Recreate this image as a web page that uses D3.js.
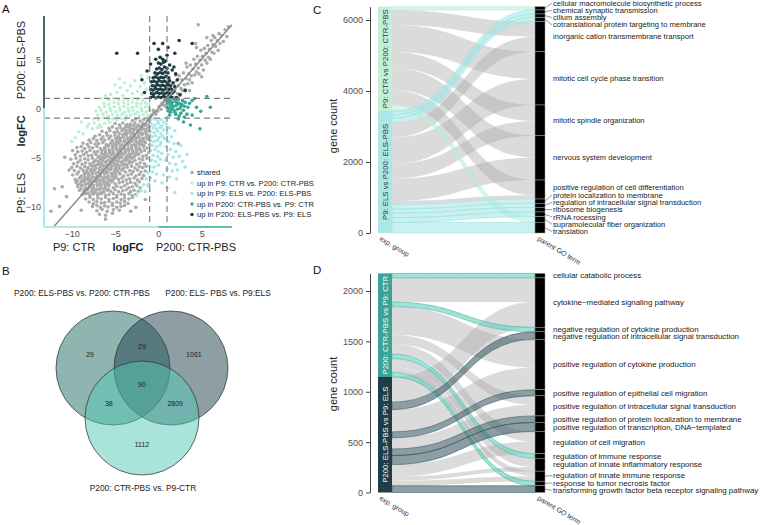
<!DOCTYPE html>
<html><head><meta charset="utf-8">
<script src="https://cdn.jsdelivr.net/npm/d3@7"></script>
<style>body{margin:0;background:#fff}svg{display:block}text{font-family:"Liberation Sans",Arial,sans-serif}</style>
</head><body><svg id="c" width="765" height="525"></svg>
<script>
// ---------------- DATA ----------------
// Panel A: logFC (x: CTR-PBS vs P9 CTR, y: ELS-PBS vs P9 ELS)
const sharedPts = [
[-0.8,-0.7],[-0.5,-0.4],[-0.3,-0.6],[-0.6,-0.2],[0.1,0.2],[0.3,-0.1],[-0.1,-0.3],[0.4,0.5],[0.6,0.3],[0.7,0.8],[-0.9,-0.9],
[-3.0,-1.25],[-2.6,-1.1],[-2.1,-1.3],[-1.7,-1.15],[-1.2,-1.25],
[-5.0,-1.55],[-4.5,-1.7],[-4.1,-1.5],[-3.6,-1.65],[-3.2,-1.6],[-2.7,-1.5],[-2.3,-1.7],[-1.8,-1.55],[-1.4,-1.65],[-1.0,-1.5],
[-5.7,-2.05],[-5.3,-1.9],[-4.8,-2.1],[-4.4,-1.95],[-3.9,-2.05],[-3.5,-1.9],[-3.0,-2.1],[-2.6,-2.0],[-2.1,-1.9],[-1.7,-2.1],[-1.2,-2.0],
[-6.5,-2.35],[-6.0,-2.5],[-5.6,-2.3],[-5.1,-2.45],[-4.7,-2.4],[-4.2,-2.3],[-3.8,-2.5],[-3.3,-2.35],[-2.9,-2.45],[-2.4,-2.3],[-2.0,-2.5],[-1.5,-2.4],[-1.1,-2.35],
[-7.3,-2.85],[-6.8,-2.7],[-6.4,-2.9],[-5.9,-2.75],[-5.5,-2.85],[-5.0,-2.7],[-4.6,-2.9],[-4.1,-2.8],[-3.7,-2.7],[-3.2,-2.9],[-2.8,-2.75],[-2.3,-2.85],[-1.9,-2.7],[-1.4,-2.9],[-1.0,-2.8],
[-8.0,-3.25],[-7.5,-3.1],[-7.1,-3.3],[-6.6,-3.15],[-6.2,-3.25],[-5.7,-3.1],[-5.3,-3.3],[-4.8,-3.2],[-4.4,-3.1],[-3.9,-3.3],[-3.5,-3.15],[-3.0,-3.25],[-2.6,-3.1],[-2.1,-3.3],[-1.7,-3.2],[-1.2,-3.15],
[-8.7,-3.55],[-8.2,-3.7],[-7.8,-3.5],[-7.3,-3.65],[-6.9,-3.6],[-6.4,-3.5],[-6.0,-3.7],[-5.5,-3.55],[-5.1,-3.65],[-4.6,-3.5],[-4.2,-3.7],[-3.7,-3.6],[-3.3,-3.5],[-2.8,-3.7],[-2.4,-3.55],[-1.9,-3.65],[-1.5,-3.5],[-1.0,-3.7],
[-9.4,-4.0],[-8.9,-3.9],[-8.5,-4.1],[-8.0,-3.95],[-7.6,-4.05],[-7.1,-3.9],[-6.7,-4.1],[-6.2,-4.0],[-5.8,-3.9],[-5.3,-4.1],[-4.9,-3.95],[-4.4,-4.05],[-4.0,-3.9],[-3.5,-4.1],[-3.1,-4.0],[-2.6,-3.9],[-2.2,-4.1],[-1.7,-3.95],[-1.3,-4.05],
[-9.9,-4.3],[-9.3,-4.45],[-8.8,-4.35],[-8.3,-4.5],[-7.9,-4.3],[-7.4,-4.45],[-7.0,-4.4],[-6.5,-4.3],[-6.1,-4.5],[-5.6,-4.35],[-5.2,-4.45],[-4.7,-4.3],[-4.3,-4.5],[-3.8,-4.4],[-3.4,-4.3],[-2.9,-4.5],[-2.5,-4.35],[-2.0,-4.45],[-1.6,-4.3],[-1.1,-4.5],
[-9.6,-4.75],[-9.0,-4.9],[-8.6,-4.7],[-8.1,-4.85],[-7.7,-4.8],[-7.2,-4.7],[-6.8,-4.9],[-6.3,-4.75],[-5.9,-4.85],[-5.4,-4.7],[-5.0,-4.9],[-4.5,-4.8],[-4.1,-4.7],[-3.6,-4.9],[-3.2,-4.75],[-2.7,-4.85],[-2.3,-4.7],[-1.8,-4.9],[-1.4,-4.8],
[-10.1,-5.2],[-9.5,-5.1],[-9.0,-5.3],[-8.5,-5.15],[-8.1,-5.25],[-7.6,-5.1],[-7.2,-5.3],[-6.7,-5.2],[-6.3,-5.1],[-5.8,-5.3],[-5.4,-5.15],[-4.9,-5.25],[-4.5,-5.1],[-4.0,-5.3],[-3.6,-5.2],[-3.1,-5.1],[-2.7,-5.3],[-2.2,-5.15],[-1.8,-5.25],[-1.3,-5.1],
[-9.8,-5.65],[-9.3,-5.5],[-8.8,-5.7],[-8.4,-5.55],[-7.9,-5.65],[-7.5,-5.5],[-7.0,-5.7],[-6.6,-5.6],[-6.1,-5.5],[-5.7,-5.7],[-5.2,-5.55],[-4.8,-5.65],[-4.3,-5.5],[-3.9,-5.7],[-3.4,-5.6],[-3.0,-5.5],[-2.5,-5.7],[-2.1,-5.55],[-1.6,-5.65],
[-10.0,-6.05],[-9.4,-5.9],[-9.0,-6.1],[-8.5,-5.95],[-8.1,-6.05],[-7.6,-5.9],[-7.2,-6.1],[-6.7,-6.0],[-6.3,-5.9],[-5.8,-6.1],[-5.4,-5.95],[-4.9,-6.05],[-4.5,-5.9],[-4.0,-6.1],[-3.6,-6.0],[-3.1,-5.9],[-2.7,-6.1],[-2.2,-5.95],[-1.8,-6.05],[-1.4,-5.9],
[-9.7,-6.35],[-9.2,-6.5],[-8.7,-6.3],[-8.3,-6.45],[-7.8,-6.4],[-7.4,-6.3],[-6.9,-6.5],[-6.5,-6.35],[-6.0,-6.45],[-5.6,-6.3],[-5.1,-6.5],[-4.7,-6.4],[-4.2,-6.3],[-3.8,-6.5],[-3.3,-6.35],[-2.9,-6.45],[-2.4,-6.3],[-2.0,-6.5],[-1.5,-6.4],
[-9.9,-6.8],[-9.4,-6.7],[-8.9,-6.9],[-8.5,-6.75],[-8.0,-6.85],[-7.6,-6.7],[-7.1,-6.9],[-6.7,-6.8],[-6.2,-6.7],[-5.8,-6.9],[-5.3,-6.75],[-4.9,-6.85],[-4.4,-6.7],[-4.0,-6.9],[-3.5,-6.8],[-3.1,-6.7],[-2.6,-6.9],[-2.2,-6.75],[-1.7,-6.85],
[-9.6,-7.25],[-9.1,-7.1],[-8.7,-7.3],[-8.2,-7.15],[-7.8,-7.25],[-7.3,-7.1],[-6.9,-7.3],[-6.4,-7.2],[-6.0,-7.1],[-5.5,-7.3],[-5.1,-7.15],[-4.6,-7.25],[-4.2,-7.1],[-3.7,-7.3],[-3.3,-7.2],[-2.8,-7.1],[-2.4,-7.3],[-1.9,-7.15],
[-9.5,-7.55],[-9.0,-7.7],[-8.6,-7.5],[-8.1,-7.65],[-7.7,-7.6],[-7.2,-7.5],[-6.8,-7.7],[-6.3,-7.55],[-5.9,-7.65],[-5.4,-7.5],[-5.0,-7.7],[-4.5,-7.6],[-4.1,-7.5],[-3.6,-7.7],[-3.2,-7.55],[-2.7,-7.65],[-2.2,-7.5],
[-9.3,-8.0],[-8.8,-7.9],[-8.4,-8.1],[-7.9,-7.95],[-7.5,-8.05],[-7.0,-7.9],[-6.6,-8.1],[-6.1,-8.0],[-5.7,-7.9],[-5.2,-8.1],[-4.8,-7.95],[-4.3,-8.05],[-3.9,-7.9],[-3.4,-8.1],[-3.0,-8.0],[-2.5,-7.9],[-2.1,-8.1],
[-9.1,-8.35],[-8.6,-8.5],[-8.2,-8.3],[-7.7,-8.45],[-7.3,-8.4],[-6.8,-8.3],[-6.4,-8.5],[-5.9,-8.35],[-5.5,-8.45],[-5.0,-8.3],[-4.6,-8.5],[-4.1,-8.4],[-3.7,-8.3],[-3.2,-8.5],[-2.8,-8.35],[-2.3,-8.45],
[-8.8,-8.8],[-8.4,-8.7],[-7.9,-8.9],[-7.5,-8.75],[-7.0,-8.85],[-6.6,-8.7],[-6.1,-8.9],[-5.7,-8.8],[-5.2,-8.7],[-4.8,-8.9],[-4.3,-8.75],[-3.9,-8.85],[-3.4,-8.7],[-3.0,-8.9],[-2.6,-8.8],
[-8.4,-9.25],[-7.9,-9.1],[-7.5,-9.3],[-7.0,-9.15],[-6.6,-9.25],[-6.1,-9.1],[-5.7,-9.3],[-5.2,-9.2],[-4.8,-9.1],[-4.3,-9.3],[-3.9,-9.15],[-3.4,-9.25],[-3.0,-9.1],
[-8.0,-9.55],[-7.5,-9.7],[-7.1,-9.5],[-6.6,-9.65],[-6.2,-9.6],[-5.7,-9.5],[-5.3,-9.7],[-4.8,-9.55],[-4.4,-9.65],[-3.9,-9.5],[-3.5,-9.7],
[-7.6,-10.0],[-7.1,-9.9],[-6.7,-10.1],[-6.2,-9.95],[-5.8,-10.05],[-5.3,-9.9],[-4.8,-10.1],[-4.3,-10.0],[-3.9,-9.9],
[-7.1,-10.45],[-6.5,-10.3],[-5.9,-10.5],[-5.2,-10.35],[-4.5,-10.4],
[-6.8,-10.8],[-6.1,-10.9],[-5.3,-10.7],
[-3.75,-1.8],[-3.3,-1.85],[-2.85,-1.75],[-2.4,-1.8],[-1.95,-1.85],[-1.5,-1.75],[-1.05,-1.8],
[-4.15,-2.2],[-3.7,-2.25],[-3.25,-2.15],[-2.8,-2.2],[-2.35,-2.25],[-1.9,-2.15],[-1.45,-2.2],
[-4.5,-2.6],[-4.05,-2.65],[-3.6,-2.55],[-3.15,-2.6],[-2.7,-2.65],[-2.25,-2.55],[-1.8,-2.6],[-1.35,-2.65],
[-4.95,-3.0],[-4.5,-3.05],[-4.05,-2.95],[-3.6,-3.0],[-3.15,-3.05],[-2.7,-2.95],[-2.25,-3.0],[-1.8,-3.05],[-1.35,-2.95],
[-5.3,-3.4],[-4.85,-3.45],[-4.4,-3.35],[-3.95,-3.4],[-3.5,-3.45],[-3.05,-3.35],[-2.6,-3.4],[-2.15,-3.45],[-1.7,-3.35],
[-5.75,-3.8],[-5.3,-3.85],[-4.85,-3.75],[-4.4,-3.8],[-3.95,-3.85],[-3.5,-3.75],[-3.05,-3.8],[-2.6,-3.85],[-2.15,-3.75],[-1.7,-3.8],
[-6.15,-4.2],[-5.7,-4.25],[-5.25,-4.15],[-4.8,-4.2],[-4.35,-4.25],[-3.9,-4.15],[-3.45,-4.2],[-3.0,-4.25],[-2.55,-4.15],[-2.1,-4.2],
[-6.55,-4.6],[-6.1,-4.65],[-5.65,-4.55],[-5.2,-4.6],[-4.75,-4.65],[-4.3,-4.55],[-3.85,-4.6],[-3.4,-4.65],[-2.95,-4.55],[-2.5,-4.6],
[-6.95,-5.0],[-6.5,-5.05],[-6.05,-4.95],[-5.6,-5.0],[-5.15,-5.05],[-4.7,-4.95],[-4.25,-5.0],[-3.8,-5.05],[-3.35,-4.95],[-2.9,-5.0],
[-7.35,-5.4],[-6.9,-5.45],[-6.45,-5.35],[-6.0,-5.4],[-5.55,-5.45],[-5.1,-5.35],[-4.65,-5.4],[-4.2,-5.45],[-3.75,-5.35],[-3.3,-5.4],
[-7.75,-5.8],[-7.3,-5.85],[-6.85,-5.75],[-6.4,-5.8],[-5.95,-5.85],[-5.5,-5.75],[-5.05,-5.8],[-4.6,-5.85],[-4.15,-5.75],[-3.7,-5.8],
[-8.15,-6.2],[-7.7,-6.25],[-7.25,-6.15],[-6.8,-6.2],[-6.35,-6.25],[-5.9,-6.15],[-5.45,-6.2],[-5.0,-6.25],[-4.55,-6.15],[-4.1,-6.2],
[-8.55,-6.6],[-8.1,-6.65],[-7.65,-6.55],[-7.2,-6.6],[-6.75,-6.65],[-6.3,-6.55],[-5.85,-6.6],[-5.4,-6.65],[-4.95,-6.55],[-4.5,-6.6],
[-8.95,-7.0],[-8.5,-7.05],[-8.05,-6.95],[-7.6,-7.0],[-7.15,-7.05],[-6.7,-6.95],[-6.25,-7.0],[-5.8,-7.05],[-5.35,-6.95],[-4.9,-7.0],
[-9.35,-7.4],[-8.9,-7.45],[-8.45,-7.35],[-8.0,-7.4],[-7.55,-7.45],[-7.1,-7.35],[-6.65,-7.4],[-6.2,-7.45],[-5.75,-7.35],[-5.3,-7.4],
[-9.3,-7.8],[-8.85,-7.85],[-8.4,-7.75],[-7.95,-7.8],[-7.5,-7.85],[-7.05,-7.75],[-6.6,-7.8],[-6.15,-7.85],[-5.7,-7.75],
[-8.95,-8.2],[-8.5,-8.25],[-8.05,-8.15],[-7.6,-8.2],[-7.15,-8.25],[-6.7,-8.15],[-6.25,-8.2],[-5.8,-8.25],
[-8.55,-8.6],[-8.1,-8.65],[-7.65,-8.55],[-7.2,-8.6],[-6.75,-8.65],[-6.3,-8.55],
[-12.0,-8.2],[-11.1,-8.0],[-10.3,-6.3],[-10.6,-9.0],[-11.4,-10.0],[-12.4,-10.5],[-6.1,-11.3],[-3.2,-10.5],[-2.6,-10.1],[-1.5,-9.3],[-1.1,-7.8],[-8.9,-10.4],[-10.8,-5.0],
[0.9,1.5],[1.0,0.6],[1.2,1.1],[1.3,2.2],[1.4,0.7],[1.5,1.6],[1.7,2.5],[1.8,1.1],[1.9,1.9],[2.0,0.9],[2.1,2.8],[2.2,1.5],[2.3,2.3],[2.4,3.3],[2.5,1.3],[2.6,2.0],[2.7,2.9],[2.8,1.8],[2.9,3.6],[3.0,2.4],[3.1,1.9],[3.2,3.0],[3.3,4.2],[3.4,2.5],[3.5,3.5],[3.6,2.9],[3.7,4.4],[3.8,3.3],[3.9,2.6],[4.0,4.0],[4.1,5.0],[4.2,3.4],[4.3,4.5],[4.4,3.7],[4.5,5.3],[4.6,4.1],[4.7,3.5],[4.8,4.9],[4.9,5.9],[5.0,4.4],[5.1,5.3],[5.2,3.9],[5.3,6.1],[5.4,4.9],[5.5,5.6],[5.6,4.6],[5.7,6.4],[5.8,5.2],[5.9,6.0],[6.0,5.0],[6.1,6.9],[6.2,5.7],[6.3,6.5],[6.4,5.6],[6.5,7.2],[6.6,6.3],[6.8,6.9],[6.9,5.9],[7.0,7.6],[7.1,6.6],[7.3,7.4],[7.5,6.8],[7.7,8.0],[7.9,7.3],[8.1,8.3],[3.2,4.6],[4.4,6.2],[4.6,8.5],[4.3,6.6],[6.3,7.4],[2.0,3.4],[1.2,2.6],[5.6,7.2],[3.6,1.8],[5.0,3.2],[0.8,0.3],[2.3,-3.6]
];
const upP9CTR = [
[-5.8,0.9],[-5.2,1.0],[-4.6,0.85],[-4.0,0.95],[-3.5,0.8],[-2.9,1.0],[-2.4,0.9],[-1.8,0.85],[-1.3,1.0],
[-6.3,0.5],[-5.7,0.4],[-5.1,0.6],[-4.6,0.45],[-4.0,0.55],[-3.5,0.4],[-3.0,0.6],[-2.5,0.5],[-2.0,0.45],[-1.5,0.55],[-1.1,0.4],
[-6.8,0.1],[-6.2,0.2],[-5.6,0.0],[-5.1,0.15],[-4.5,0.05],[-4.0,0.2],[-3.5,0.0],[-3.0,0.1],[-2.5,0.2],[-2.0,0.0],[-1.5,0.15],[-1.1,0.05],
[-7.2,-0.3],[-6.6,-0.2],[-6.0,-0.4],[-5.5,-0.25],[-4.9,-0.35],[-4.4,-0.2],[-3.9,-0.4],[-3.4,-0.3],[-2.9,-0.2],[-2.4,-0.4],[-1.9,-0.25],[-1.4,-0.35],[-1.0,-0.2],
[-7.0,-0.7],[-6.4,-0.6],[-5.8,-0.8],[-5.3,-0.65],[-4.7,-0.75],[-4.2,-0.6],[-3.7,-0.8],[-3.2,-0.7],[-2.7,-0.6],[-2.2,-0.8],[-1.7,-0.65],[-1.2,-0.75],
[-7.5,-1.1],[-6.9,-1.2],[-6.3,-1.0],[-5.8,-1.15],[-5.3,-1.1],[-4.8,-1.2],[-4.3,-1.05],[-3.8,-1.15],
[-8.0,-1.6],[-7.4,-1.5],[-6.8,-1.7],[-6.2,-1.55],[-5.6,-1.45],
[-8.2,-1.9],[-7.6,-2.1],[-7.0,-2.0],[-6.6,-1.9],
[-9.2,-2.4],[-8.7,-2.6],[-9.6,-3.0],[-8.9,-1.4],[-10.0,-3.4],
[-5.5,1.4],[-4.8,1.6],[-4.1,1.3],[-3.6,1.8],[-3.0,1.5],[-2.4,1.7],[-1.9,1.4],[-1.4,1.9],[-4.4,2.1],[-3.2,2.3],[-2.1,2.2],[-1.6,2.6],[-2.7,2.8],[-3.9,2.6],[-1.2,3.1],[-5.0,2.4],[-6.1,1.3],[-6.6,1.0],[-2.0,3.3],[-4.5,3.0]
];
const upP9ELS = [
[-0.9,-1.2],[-0.5,-1.1],[-0.1,-1.3],[0.3,-1.15],[0.6,-1.4],
[-0.8,-1.6],[-0.4,-1.7],[0.0,-1.55],[0.4,-1.8],[-0.6,-2.0],[-0.2,-2.1],[0.2,-1.95],[0.6,-2.2],
[-0.9,-2.4],[-0.5,-2.5],[-0.1,-2.35],[0.3,-2.6],[-0.7,-2.9],[-0.3,-2.8],[0.1,-3.0],[0.5,-2.85],
[-0.9,-3.3],[-0.5,-3.4],[-0.1,-3.25],[0.3,-3.5],[-0.7,-3.8],[-0.2,-3.9],[0.2,-3.75],
[-0.9,-4.3],[-0.4,-4.2],[0.0,-4.4],[-0.6,-4.8],[-0.1,-4.9],[0.4,-4.6],
[-0.8,-5.3],[-0.3,-5.4],[0.2,-5.2],[-1.0,-5.9],[-0.5,-6.0],[0.0,-5.8],
[-1.2,-6.6],[-0.7,-6.5],[-0.2,-6.7],[-1.4,-7.2],[-0.9,-7.1],[-0.4,-7.4],
[-1.7,-7.8],[-1.2,-7.9],[-2.0,-8.4],[-1.5,-8.5],[-2.5,-8.9],
[0.9,-1.6],[1.3,-2.0],[1.0,-2.6],[1.5,-2.9],[1.2,-3.4],[1.8,-3.6],[0.9,-3.9],[1.4,-4.2],[2.0,-4.4],[1.1,-4.7],[1.7,-5.0],[2.4,-4.9],[0.8,-5.3],[1.3,-5.6],[2.0,-5.7],[2.8,-5.4],[1.0,-6.2],[1.6,-6.4],[2.2,-6.3],[3.1,-6.0],[0.6,-6.8],[1.3,-7.0],[2.1,-7.2],[0.4,-7.6],[1.0,-8.1],[1.9,-8.6],[2.6,-3.8],[3.3,-4.7],[0.7,-3.1],[1.9,-2.3]
];
const upP200CTR = [
[0.9,0.9],[1.1,0.5],[1.0,0.1],[1.2,-0.3],[1.3,0.8],[1.4,0.3],[1.5,-0.1],[1.6,0.6],[1.7,1.0],[1.8,0.2],[1.9,-0.4],[2.0,0.7],[2.1,0.3],[2.2,-0.1],[2.3,0.9],[2.4,0.5],[2.5,0.0],[2.6,-0.5],[2.7,0.4],[2.8,0.8],[2.9,-0.2],[3.0,0.2],[3.1,0.6],[3.3,-0.6],[3.4,0.1],[1.2,0.0],[1.5,0.4],[1.8,-0.2],[2.2,0.5],[2.6,0.2],[1.1,0.6],[1.4,-0.4],[2.0,-0.6],[1.6,0.1],[1.3,-0.7],[2.4,-0.8],[3.0,-0.9],[1.9,0.9],
[3.9,0.8],[4.4,0.1],[5.6,1.2],[6.0,0.1],[3.9,-0.7],[2.3,-1.1],[3.7,-1.7],[4.8,-2.1],[4.2,1.0],[3.6,0.5],[4.9,-0.3],[2.9,-1.4]
];
const upP200ELS = [
[-0.9,1.1],[-0.6,1.2],[-0.3,1.05],[0.0,1.15],[0.3,1.1],[0.6,1.2],[0.9,1.1],[1.2,1.25],[1.5,1.15],
[-0.8,1.5],[-0.5,1.45],[-0.2,1.6],[0.1,1.5],[0.4,1.55],[0.7,1.45],[1.0,1.6],[1.3,1.5],[1.6,1.55],
[-0.9,1.9],[-0.6,1.85],[-0.3,2.0],[0.0,1.9],[0.3,1.95],[0.6,1.85],[0.9,2.0],[1.2,1.9],[1.5,1.95],[1.8,1.7],
[-0.7,2.3],[-0.4,2.25],[-0.1,2.4],[0.2,2.3],[0.5,2.35],[0.8,2.25],[1.1,2.4],[1.4,2.3],[1.9,2.2],
[-0.8,2.7],[-0.5,2.75],[-0.2,2.65],[0.1,2.8],[0.4,2.7],[0.7,2.75],[1.0,2.65],[1.3,2.8],
[-0.6,3.1],[-0.3,3.2],[0.0,3.05],[0.3,3.15],[0.6,3.1],[0.9,3.25],[1.2,3.1],
[-0.4,3.6],[-0.1,3.5],[0.2,3.65],[0.5,3.55],[0.8,3.7],[1.1,3.6],
[-0.2,4.0],[0.1,4.1],[0.4,3.95],[0.7,4.2],[1.0,4.05],[1.6,3.9],
[0.0,4.6],[0.3,4.5],[0.6,4.7],[1.3,4.4],[1.8,4.2],
[-0.3,5.0],[0.2,5.2],[0.5,5.0],[1.0,5.4],[0.8,4.8],
[-0.5,6.6],[0.5,6.6],[1.1,6.2],[3.9,6.6],[-4.8,5.6],[-2.4,5.6],[-1.9,2.9],[-1.3,3.8],[-1.6,1.6],[2.2,2.9],[2.5,1.4],[3.1,1.8],[2.1,1.1],[1.7,2.6],[2.0,3.5],[0.0,6.0],[1.9,5.6],[-0.9,4.5],[2.4,6.9]
];
const scatterTicks = [-10, -5, 0, 5];
const thresholds = [-1, 1];
const legendLabels = ["shared","up in P9: CTR vs. P200: CTR-PBS","up in P9: ELS vs. P200: ELS-PBS","up in P200: CTR-PBS vs. P9: CTR","up in P200: ELS-PBS vs. P9: ELS"];

// Panel B: Venn
const vennSetNames = ["P200: ELS-PBS vs. P200: CTR-PBS","P200: ELS- PBS vs. P9:ELS","P200: CTR-PBS vs. P9-CTR"];
const vennRegions = ["100","010","001","110","101","011","111"];
const vennCounts  = [29, 1061, 1112, 29, 38, 2809, 90];

// Panel C
const groupsC = ["P9: CTR vs P200: CTR-PBS","P9: ELS vs P200: ELS-PBS"];
const termsC = ["cellular macromolecule biosynthetic process","chemical synaptic transmission","cilium assembly","cotranslational protein targeting to membrane","inorganic cation transmembrane transport","mitotic cell cycle phase transition","mitotic spindle organization","nervous system development","positive regulation of cell differentiation","protein localization to membrane","regulation of intracellular signal transduction","ribosome biogenesis","rRNA rocessing","supramolecular fiber organization","translation"];
const ctrCountsC = [94,0,0,0,423,760,450,620,430,0,0,0,0,160,0];
const elsCountsC = [0,113,94,122,422,742,414,629,105,122,113,131,132,0,300];
const ticksC = [0,2000,4000,6000];

// Panel D
const groupsD = ["P200: CTR-PBS vs P9: CTR","P200: ELS-PBS vs P9: ELS"];
const termsD = ["cellular catabolic process","cytokine\u2212mediated signaling pathway","negative regulation of cytokine production","negative regulation of intracellular signal transduction","positive regulation of cytokine production","positive regulation of epithelial cell migration","positive regulation of intracellular signal transduction","positive regulation of protein localization to membrane","positive regulation of transcription, DNA\u2212templated","regulation of cell migration","regulation of immune response","regulation of innate inflammatory response","regulation of innate immune response","response to tumor necrosis factor","transforming growth factor beta receptor signaling pathway"];
const ctrCountsD = [45,240,45,0,280,0,90,0,0,100,45,88,50,45,0];
const elsCountsD = [0,250,0,75,220,60,110,65,90,120,0,40,50,0,67];
const ticksD = [0,500,1000,1500,2000];

// ---------------- DRAW ----------------
const svg = d3.select("#c");
const TXT = "#4d4d4d";
function letter(t,x,y){svg.append("text").attr("x",x).attr("y",y).attr("font-size",11.5).attr("fill","#111").text(t);}
letter("A",2,13); letter("B",2,275); letter("C",313,14); letter("D",313,274);

// ---- Panel A ----
(function(){
  const x = d3.scaleLinear().domain([-13.2, 8.5]).range([44, 232]);
  const y = d3.scaleLinear().domain([-12.1, 9.4]).range([227, 16]);
  const g = svg.append("g");
  g.append("clipPath").attr("id","clipA").append("rect").attr("x",44).attr("y",14).attr("width",190).attr("height",214);
  const pg = g.append("g").attr("clip-path","url(#clipA)");
  const series = [
    {d: sharedPts, c:"#ababab"},
    {d: upP9CTR, c:"#bff0d7"},
    {d: upP9ELS, c:"#a9e8e8"},
    {d: upP200CTR, c:"#37a893"},
    {d: upP200ELS, c:"#1e3b44"}
  ];
  series.forEach(s=>{
    pg.selectAll(null).data(s.d).enter().append("circle")
      .attr("cx",d=>x(d[0])).attr("cy",d=>y(d[1])).attr("r",1.8).attr("fill",s.c);
  });
  thresholds.forEach(t=>{
    g.append("line").attr("x1",x(t)).attr("x2",x(t)).attr("y1",y(9.4)).attr("y2",y(-12.1))
      .attr("stroke","#808080").attr("stroke-width",1.2).attr("stroke-dasharray","6,4");
    g.append("line").attr("x1",x(-13.2)).attr("x2",x(8.5)).attr("y1",y(t)).attr("y2",y(t))
      .attr("stroke","#808080").attr("stroke-width",1.2).attr("stroke-dasharray","6,4");
  });
  g.append("line").attr("x1",x(-12.1)).attr("y1",y(-12.1)).attr("x2",x(8.5)).attr("y2",y(8.5))
    .attr("stroke","#8a8a8a").attr("stroke-width",1.4);
  g.append("line").attr("x1",x(-13.2)).attr("x2",x(0)).attr("y1",227).attr("y2",227).attr("stroke","#b3eadf").attr("stroke-width",2);
  g.append("line").attr("x1",x(0)).attr("x2",x(8.5)).attr("y1",227).attr("y2",227).attr("stroke","#5fbfae").attr("stroke-width",2);
  g.append("line").attr("x1",44).attr("x2",44).attr("y1",y(9.4)).attr("y2",y(0)).attr("stroke","#4b6870").attr("stroke-width",2);
  g.append("line").attr("x1",44).attr("x2",44).attr("y1",y(0)).attr("y2",227).attr("stroke","#aee8e8").attr("stroke-width",2);
  const ax = g.append("g").attr("transform","translate(0,227)").call(d3.axisBottom(x).tickValues(scatterTicks).tickSize(0).tickPadding(4));
  const ay = g.append("g").attr("transform","translate(44,0)").call(d3.axisLeft(y).tickValues(scatterTicks).tickSize(0).tickPadding(3));
  [ax,ay].forEach(a=>{a.select(".domain").remove(); a.selectAll("text").attr("font-size",9).attr("fill",TXT).attr("font-family","Liberation Sans, Arial");});
  const bt = (t,xx,bold)=>g.append("text").attr("x",xx).attr("y",251).attr("text-anchor","middle").attr("font-size",11).attr("font-weight",bold?"bold":"normal").attr("fill","#222").text(t);
  bt("P9: CTR",74,false); bt("logFC",128,true); bt("P200: CTR-PBS",196,false);
  const lt = (t,yy,bold)=>g.append("text").attr("transform",`translate(25,${yy}) rotate(-90)`).attr("text-anchor","middle").attr("font-size",11).attr("font-weight",bold?"bold":"normal").attr("fill","#222").text(t);
  lt("P200: ELS-PBS",60,false); lt("logFC",131,true); lt("P9: ELS",193,false);
  const lc = series.map(s=>s.c);
  legendLabels.forEach((l,i)=>{
    const yy = 172.5 + i*10.5;
    g.append("circle").attr("cx",192).attr("cy",yy).attr("r",1.7).attr("fill",lc[i]);
    g.append("text").attr("x",197).attr("y",yy).attr("dy","0.35em").attr("font-size",7.6).attr("fill","#222").text(l);
  });
})();

// ---- Panel B: Venn ----
(function(){
  const g = svg.append("g");
  const r = 57, cx0 = 142, cy0 = 385, dx = 29;
  const circles = [
    {x: cx0-dx, y: cy0-17, c:"#1f6b63"},
    {x: cx0+dx, y: cy0-17, c:"#1d3f49"},
    {x: cx0,    y: cy0+33, c:"#53c7b5"}
  ];
  circles.forEach(c=>{
    g.append("circle").attr("cx",c.x).attr("cy",c.y).attr("r",r).attr("fill",c.c).attr("fill-opacity",0.5)
      .attr("stroke","#2b2b2b").attr("stroke-width",0.7);
  });
  const acc = {};
  for(let px=cx0-dx-r; px<=cx0+dx+r; px+=1){
    for(let py=cy0-17-r; py<=cy0+33+r; py+=1){
      const k = circles.map(c=> ((px-c.x)**2+(py-c.y)**2 <= r*r) ? "1":"0").join("");
      if(k==="000") continue;
      (acc[k]=acc[k]||{sx:0,sy:0,n:0}); acc[k].sx+=px; acc[k].sy+=py; acc[k].n++;
    }
  }
  vennRegions.forEach((k,i)=>{
    const a = acc[k];
    g.append("text").attr("x",a.sx/a.n).attr("y",a.sy/a.n).attr("dy","0.35em").attr("text-anchor","middle")
      .attr("font-size",7).attr("font-family","Open Sans, sans-serif").attr("fill","#222").text(vennCounts[i]);
  });
  const tt=(t,x,y)=>g.append("text").attr("x",x).attr("y",y).attr("text-anchor","middle").attr("font-size",8.4)
    .attr("font-family","Open Sans, sans-serif").attr("fill","#222").text(t);
  tt(vennSetNames[0], 82, 296); tt(vennSetNames[1], 218, 296); tt(vennSetNames[2], 143, 491);
})();

// ---- Alluvial helper ----
function repel(targets, gap){
  let cl = targets.map((t,i)=>({idx:[i], sum:t}));
  const pos = c => { const n=c.idx.length, m=c.sum/n; return c.idx.map((_,k)=> m + (k-(n-1)/2)*gap); };
  let merged = true;
  while(merged){
    merged=false;
    for(let i=0;i<cl.length-1;i++){
      const a=pos(cl[i]), b=pos(cl[i+1]);
      if(b[0]-a[a.length-1] < gap-1e-6){
        cl[i]={idx:cl[i].idx.concat(cl[i+1].idx), sum:cl[i].sum+cl[i+1].sum};
        cl.splice(i+1,1); merged=true; break;
      }
    }
  }
  const out=[]; cl.forEach(c=>{pos(c).forEach((p,k)=>out[c.idx[k]]={y:p, n:c.idx.length});});
  return out;
}

function alluvial(o){
  const g = svg.append("g");
  const xL=378, sw=14, xR=535, bw=10;
  const vals=[o.a,o.b];
  const T = o.terms.map((_,t)=>vals[0][t]+vals[1][t]);
  const total = d3.sum(T);
  const y = d3.scaleLinear().domain(o.dom).range(o.rng);
  const lodes=[]; let cur=total; const gBounds=[];
  vals.forEach((v,gi)=>{ const top=cur; v.forEach((n,t)=>{ if(n>0){ lodes.push({gi,t,n,l0:cur,l1:cur-n}); cur-=n; } }); gBounds.push([top,cur]); });
  let rc=total; const strata=[];
  T.forEach((n,t)=>{ strata.push({t,top:rc,bot:rc-n}); let c=rc;
    [0,1].forEach(gi=>{ const L=lodes.find(d=>d.gi===gi&&d.t===t); if(L){L.r0=c; L.r1=c-L.n; c-=L.n;} }); rc-=n; });
  const x0=xL+sw, x1=xR, xm=(x0+x1)/2;
  const path = d => `M${x0},${y(d.l0)}C${xm},${y(d.l0)} ${xm},${y(d.r0)} ${x1},${y(d.r0)}L${x1},${y(d.r1)}C${xm},${y(d.r1)} ${xm},${y(d.l1)} ${x0},${y(d.l1)}Z`;
  const shared = d => vals[0][d.t]>0 && vals[1][d.t]>0;
  g.selectAll(null).data(lodes.filter(shared)).enter().append("path").attr("d",path)
    .attr("fill","#a9a9a9").attr("fill-opacity",0.42);
  g.selectAll(null).data(lodes.filter(d=>!shared(d))).enter().append("path").attr("d",path)
    .attr("fill",d=>o.flow[d.gi]).attr("fill-opacity",o.flowOp)
    .attr("stroke",d=>o.flowStroke[d.gi]).attr("stroke-width",0.6).attr("stroke-opacity",0.8);
  gBounds.forEach((b,gi)=>{
    g.append("rect").attr("x",xL).attr("width",sw).attr("y",y(b[0])).attr("height",y(b[1])-y(b[0])).attr("fill",o.strat[gi]);
    g.append("text").attr("transform",`translate(${xL+sw/2},${(y(b[0])+y(b[1]))/2}) rotate(-90)`).attr("text-anchor","middle")
      .attr("dy","0.35em").attr("font-size",7.8).attr("fill",o.stratTxt).text(o.groups[gi]);
  });
  strata.forEach(s=>{
    g.append("rect").attr("x",xR).attr("width",bw).attr("y",y(s.top)).attr("height",y(s.bot)-y(s.top))
      .attr("fill","#000").attr("stroke","#9a9a9a").attr("stroke-width",0.5);
  });
  const centers = strata.map(s=>(y(s.top)+y(s.bot))/2);
  const lab = repel(centers, o.gap);
  strata.forEach((s,i)=>{
    const h = y(s.bot)-y(s.top);
    if(lab[i].n>=3 && h<14){
      g.append("line").attr("x1",xR+bw).attr("y1",centers[i]).attr("x2",xR+bw+7).attr("y2",lab[i].y)
        .attr("stroke","#555").attr("stroke-width",0.6);
    }
    g.append("text").attr("x",xR+bw+8).attr("y",lab[i].y).attr("dy","0.35em").attr("font-size",o.fs).attr("fill","#1a1a1a").text(o.terms[i]);
  });
  const ax = g.append("g").attr("transform","translate(370,0)").call(d3.axisLeft(d3.scaleLinear().domain([0,total]).range([y(0),y(total)])).tickValues([]).tickSizeOuter(0));
  const ax2 = g.append("g").attr("transform","translate(370,0)").call(d3.axisLeft(y).tickValues(o.ticks).tickFormat(d3.format("d")).tickSize(4).tickPadding(3));
  ax2.select(".domain").remove();
  [ax,ax2].forEach(a=>{a.selectAll("path,line").attr("stroke","#444"); a.selectAll("text").attr("font-size",9).attr("fill",TXT).attr("font-family","Liberation Sans, Arial");});
  g.append("text").attr("transform",`translate(337,${o.titleY}) rotate(-90)`).attr("text-anchor","middle").attr("font-size",11).attr("fill","#222").text("gene count");
  const by = y(0)+7;
  g.append("text").attr("transform",`translate(379,${by}) rotate(31)`).attr("font-size",7).attr("fill","#333").text("exp. group");
  g.append("text").attr("transform",`translate(537,${by}) rotate(31)`).attr("font-size",7).attr("fill","#333").text("parent GO term");
}

alluvial({terms:termsC, a:ctrCountsC, b:elsCountsC, groups:groupsC, dom:[0,6000], rng:[233,20], ticks:ticksC,
  flow:["#bfeed8","#a6e6e6"], flowStroke:["#aee8cf","#95dfdf"], flowOp:0.6, strat:["#c3eed8","#ace7e7"], stratTxt:"#333", gap:7.3, fs:7.6, titleY:126});
alluvial({terms:termsD, a:ctrCountsD, b:elsCountsD, groups:groupsD, dom:[0,2000], rng:[492.5,291], ticks:ticksD,
  flow:["#5dd0bd","#3e5e68"], flowStroke:["#3aa896","#27444d"], flowOp:0.6, strat:["#3ba393","#1f3d46"], stratTxt:"#fff", gap:7.4, fs:7.9, titleY:384});
</script></body></html>
